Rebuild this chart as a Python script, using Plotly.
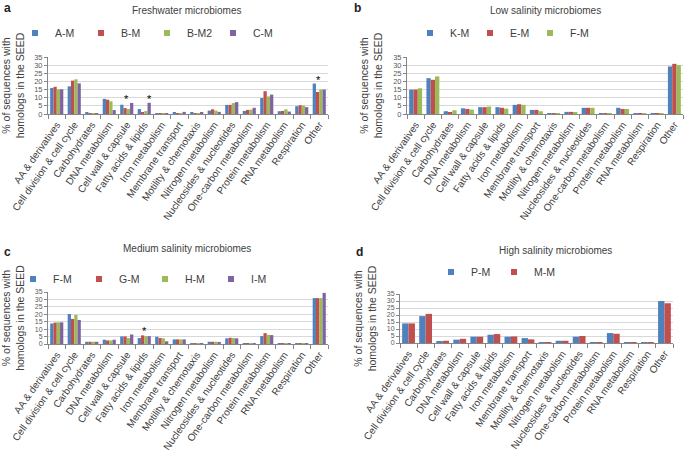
import plotly.graph_objects as go

categories = ["AA & derivatives", "Cell division & cell cycle", "Carbohydrates", "DNA metabolism",
              "Cell wall & capsule", "Fatty acids & lipids", "Iron metabolism", "Membrane transport",
              "Motility & chemotaxis", "Nitrogen metabolism", "Nucleosides & nucleotides",
              "One-carbon metabolism", "Protein metabolism", "RNA metabolism", "Respiration", "Other"]

# Panel a: Freshwater microbiomes
a_AM = [16.0, 17.0, 0.8, 9.3, 5.7, 3.0, 0.4, 0.9, 1.0, 2.1, 5.6, 1.9, 9.8, 1.7, 4.8, 18.7]
a_BM = [16.7, 20.5, 0.5, 8.8, 3.6, 1.2, 0.5, 0.5, 0.5, 2.9, 5.6, 2.5, 14.0, 1.9, 5.4, 13.5]
a_BM2 = [15.2, 21.3, 0.5, 7.8, 3.1, 1.8, 0.5, 0.5, 0.5, 2.1, 6.7, 2.7, 10.8, 2.9, 5.2, 15.0]
a_CM = [15.2, 18.8, 0.5, 2.4, 6.8, 6.9, 0.5, 1.3, 1.0, 1.3, 7.3, 3.8, 11.9, 1.5, 4.2, 15.0]

# Panel b: Low salinity microbiomes
b_KM = [15.0, 22.0, 1.7, 3.5, 4.2, 4.2, 5.6, 2.5, 0.5, 1.3, 3.8, 0.1, 3.8, 0.2, 0.2, 29.2]
b_EM = [15.0, 21.0, 1.0, 3.1, 4.2, 3.8, 6.0, 2.5, 0.5, 1.3, 3.8, 0.1, 3.1, 0.2, 0.2, 30.8]
b_FM = [15.8, 23.1, 2.3, 2.7, 4.6, 3.3, 5.6, 1.7, 0.3, 1.0, 3.8, 0.1, 3.1, 0.2, 0.2, 30.0]

# Panel c: Medium salinity microbiomes
c_FM = [13.8, 20.2, 1.5, 2.9, 5.1, 4.0, 4.9, 3.1, 0.3, 1.5, 3.8, 0.2, 5.3, 0.3, 0.1, 30.9]
c_GM = [14.4, 16.9, 1.5, 2.4, 5.1, 5.8, 4.0, 3.1, 0.3, 1.5, 4.2, 0.2, 7.3, 0.3, 0.1, 30.9]
c_HM = [14.6, 19.6, 1.5, 2.4, 4.0, 5.3, 3.8, 3.1, 0.3, 1.5, 4.0, 0.2, 6.2, 0.3, 0.1, 30.9]
c_IM = [14.6, 16.2, 1.5, 2.9, 6.4, 5.3, 1.8, 3.1, 0.3, 1.1, 3.8, 0.2, 6.0, 0.3, 0.1, 34.4]

# Panel d: High salinity microbiomes
d_PM = [14.0, 19.2, 1.2, 2.4, 4.5, 5.9, 4.5, 3.5, 0.2, 1.6, 4.5, 0.2, 7.1, 0.3, 0.1, 30.0]
d_MM = [14.0, 20.8, 1.6, 3.0, 4.5, 6.4, 4.7, 2.6, 0.2, 1.6, 5.0, 0.2, 6.6, 0.3, 0.1, 28.4]

titles = ["Freshwater microbiomes", "Low salinity microbiomes",
          "Medium salinity microbiomes", "High salinity microbiomes"]
panel_letters = ["a", "b", "c", "d"]
y_title = "% of sequences with<br>homologs in the SEED"

# significance stars: (panel, category, x shift px)
stars = [(0, "Cell wall & capsule", 0), (0, "Fatty acids & lipids", 5), (0, "Other", -1),
         (2, "Fatty acids & lipids", 0)]

BLUE, RED, GREEN, PURPLE = "#4F81BD", "#C0504D", "#9BBB59", "#8064A2"

panels = [
    [("A-M", a_AM, BLUE), ("B-M", a_BM, RED), ("B-M2", a_BM2, GREEN), ("C-M", a_CM, PURPLE)],
    [("K-M", b_KM, BLUE), ("E-M", b_EM, RED), ("F-M", b_FM, GREEN)],
    [("F-M", c_FM, BLUE), ("G-M", c_GM, RED), ("H-M", c_HM, GREEN), ("I-M", c_IM, PURPLE)],
    [("P-M", d_PM, BLUE), ("M-M", d_MM, RED)],
]

W, H = 685, 453
# plot areas in pixels: (left, right, top, bottom)
areas = [(48, 328, 57, 114), (407, 683, 57, 114), (48, 328, 292, 344), (400, 673, 294, 343)]
legend_pos = [(15, 33, 21), (410, 33, 15), (13, 279, 21), (431, 272, 18)]
title_pos = [(187, 10), (545, 10), (187, 248), (555, 250)]
letter_pos = [(2, 8), (352, 8), (2, 252), (354, 252)]
ytick_size = [7.5, 7.5, 7, 7]

fig = go.Figure()
layout = dict(width=W, height=H, margin=dict(l=0, r=0, t=0, b=0),
              paper_bgcolor="white", plot_bgcolor="white",
              font=dict(family="Liberation Sans, Arial, sans-serif", size=10, color="#404040"),
              barmode="group", bargap=0.25, bargroupgap=0.0, showlegend=True,
              annotations=[])

for i, series in enumerate(panels):
    xa = "x" if i == 0 else f"x{i+1}"
    ya = "y" if i == 0 else f"y{i+1}"
    lg = "legend" if i == 0 else f"legend{i+1}"
    for name, vals, col in series:
        fig.add_trace(go.Bar(x=categories, y=vals, name=name, marker=dict(color=col, line=dict(width=0)),
                             xaxis=xa, yaxis=ya, showlegend=False, legendgroup=f"{i}{name}"))
        # legend entry with a small square key
        fig.add_trace(go.Scatter(x=[None], y=[None], mode="markers", name=name,
                                 marker=dict(symbol="square", size=6, color=col),
                                 xaxis=xa, yaxis=ya, legend=lg, legendgroup=f"{i}{name}"))
    l, r, t, b = areas[i]
    xk = "xaxis" if i == 0 else f"xaxis{i+1}"
    yk = "yaxis" if i == 0 else f"yaxis{i+1}"
    layout[xk] = dict(domain=[l / W, r / W], anchor=ya, type="category", tickangle=-55,
                      tickfont=dict(size=10, color="#404040"), ticks="outside", tickson="boundaries",
                      ticklen=4, tickcolor="#868686", showline=True, linecolor="#868686",
                      showgrid=False, automargin=False)
    layout[yk] = dict(domain=[1 - b / H, 1 - t / H], anchor=xa, range=[0, 35], dtick=5,
                      showline=True, linecolor="#868686", ticks="outside", ticklen=3,
                      tickcolor="#868686", gridcolor="#D9D9D9", gridwidth=1,
                      tickfont=dict(size=ytick_size[i], color="#595959"), automargin=False,
                      zeroline=False,
                      title=dict(text=y_title, font=dict(size=10.5, color="#404040"), standoff=8))
    lx, ly, ew = legend_pos[i]
    layout[lg] = dict(x=lx / W, y=1 - ly / H, xanchor="left", yanchor="middle", orientation="h",
                      font=dict(size=10.5, color="#404040"), entrywidth=ew, bgcolor="rgba(0,0,0,0)",
                      itemwidth=30, traceorder="normal")
    tx, ty = title_pos[i]
    layout["annotations"].append(dict(text=titles[i], x=tx / W, y=1 - ty / H, xref="paper", yref="paper",
                                      showarrow=False, font=dict(size=10, color="#404040"),
                                      xanchor="center", yanchor="middle"))
    px_, py_ = letter_pos[i]
    layout["annotations"].append(dict(text=f"<b>{panel_letters[i]}</b>", x=px_ / W, y=1 - py_ / H,
                                      xref="paper", yref="paper", showarrow=False,
                                      font=dict(size=12, color="#222222"),
                                      xanchor="left", yanchor="middle"))

for p, cat, xs in stars:
    xa = "x" if p == 0 else f"x{p+1}"
    ya = "y" if p == 0 else f"y{p+1}"
    idx = categories.index(cat)
    top = max(s[1][idx] for s in panels[p])
    layout["annotations"].append(dict(text="*", x=cat, y=top, xref=xa, yref=ya, showarrow=False,
                                      xshift=xs, yshift=4, font=dict(size=11, color="#000000"),
                                      yanchor="middle"))

fig.update_layout(**layout)
fig.write_html("out.html", config={"displayModeBar": False},
               post_script="document.body.style.margin='0px';")
